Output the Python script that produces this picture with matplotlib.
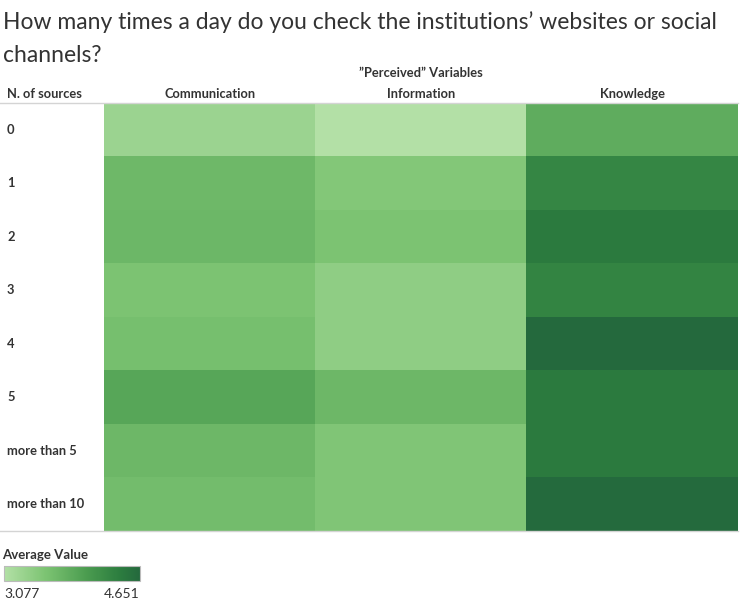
"""
Heatmap: perceived variables by number of sources checked per day.
Saves: out.png
"""
import numpy as np
import matplotlib
matplotlib.use("Agg")
import matplotlib.pyplot as plt
from matplotlib.colors import LinearSegmentedColormap, Normalize
from matplotlib.lines import Line2D
from matplotlib.colorbar import ColorbarBase

plt.rcParams["font.family"] = ["Lato", "DejaVu Sans"]

# ---- data ----
rows = ["0", "1", "2", "3", "4", "5", "more than 5", "more than 10"]
cols = ["Communication", "Information", "Knowledge"]
communication = [3.28, 3.69, 3.71, 3.56, 3.61, 3.91, 3.70, 3.64]
information   = [3.077, 3.50, 3.56, 3.39, 3.39, 3.70, 3.52, 3.52]
knowledge     = [3.83, 4.30, 4.44, 4.32, 4.651, 4.44, 4.44, 4.63]
vmin, vmax = 3.077, 4.651

vals = np.column_stack([communication, information, knowledge])

cmap = LinearSegmentedColormap.from_list(
    "tab_green", [(0.0, "#b3e0a6"), (0.3, "#7dc473"), (0.6, "#4c9d50"),
                  (0.85, "#2c7d3f"), (1.0, "#24693d")])
norm = Normalize(vmin, vmax)

W, H = 740, 602
fig = plt.figure(figsize=(W / 100, H / 100), dpi=100)

def fx(x): return x / W
def fy(y): return 1 - y / H

# ---- heatmap ----
left, right, top, bot = 104, 738, 103, 531
ax = fig.add_axes([fx(left), fy(bot), fx(right - left), (bot - top) / H])
ax.imshow(vals, cmap=cmap, norm=norm, aspect="auto", interpolation="nearest")
ax.set_axis_off()

# separators
for y in (top, bot):
    fig.add_artist(Line2D([0, fx(right)], [fy(y), fy(y)], color="#d4d4d4", lw=1))

# ---- text ----
fig.text(fx(3), fy(22), "How many times a day do you check the institutions\u2019 websites or social",
         fontsize=16.5, color="#333333", va="center", ha="left")
fig.text(fx(3), fy(56), "channels?",
         fontsize=16.5, color="#333333", va="center", ha="left")
fig.text(fx((left + right) / 2), fy(73), "\u201dPerceived\u201d Variables",
         fontsize=9.3, fontweight="bold", color="#333333", ha="center", va="center")
fig.text(fx(7), fy(94), "N. of sources", fontsize=9.3, fontweight="bold",
         color="#333333", ha="left", va="center")
col_w = (right - left) / len(cols)
for i, c in enumerate(cols):
    fig.text(fx(left + col_w * (i + 0.5)), fy(94), c, fontsize=9.3, fontweight="bold",
             color="#333333", ha="center", va="center")
row_h = (bot - top) / len(rows)
for j, r in enumerate(rows):
    fig.text(fx(7), fy(top + row_h * (j + 0.5)), r, fontsize=9.3, fontweight="bold",
             color="#333333", ha="left", va="center")

# ---- legend ----
fig.text(fx(2), fy(555), "Average Value", fontsize=9.5, fontweight="bold",
         color="#333333", ha="left", va="center")
cax = fig.add_axes([fx(4), fy(581), fx(136), 15 / H])
cb = ColorbarBase(cax, cmap=cmap, norm=norm, orientation="horizontal")
cb.set_ticks([])
cb.outline.set_edgecolor("#bbbbbb")
fig.text(fx(4), fy(594), f"{vmin:.3f}", fontsize=10, color="#333333", ha="left", va="center")
fig.text(fx(140), fy(594), f"{vmax:.3f}", fontsize=10, color="#333333", ha="right", va="center")

fig.savefig("out.png", dpi=100)
